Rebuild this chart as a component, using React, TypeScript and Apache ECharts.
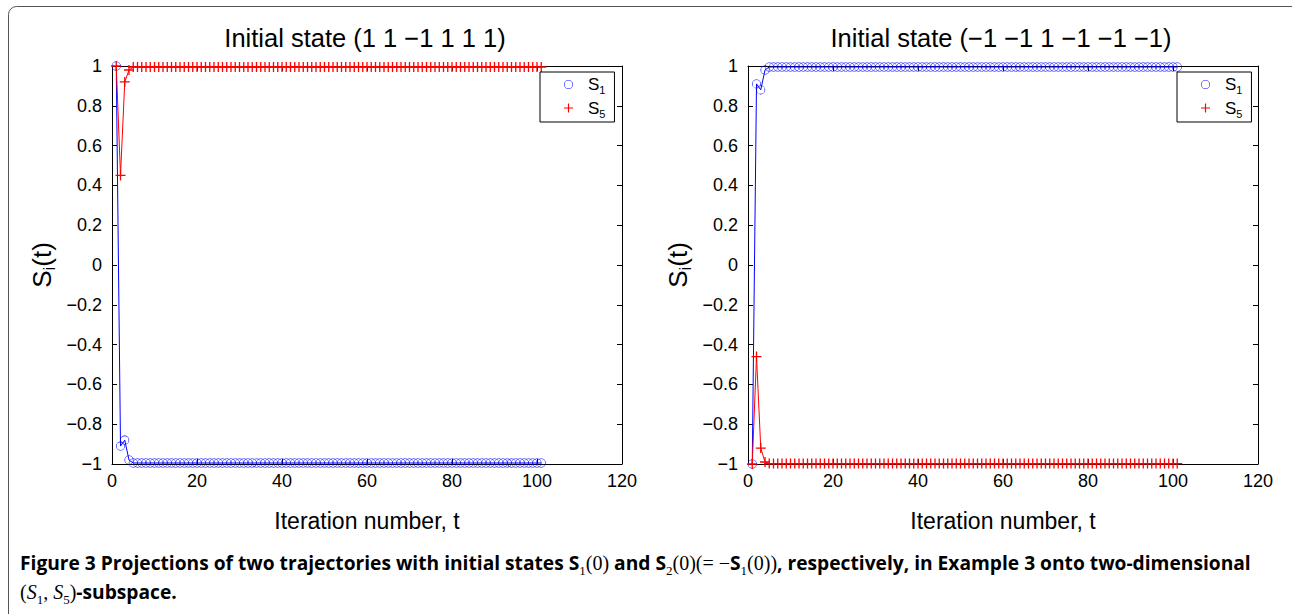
import React, { useEffect, useRef } from "react";
import * as echarts from "echarts";

const iterations = [
  1, 2, 3, 4, 5, 6, 7, 8, 9, 10,
  11, 12, 13, 14, 15, 16, 17, 18, 19, 20,
  21, 22, 23, 24, 25, 26, 27, 28, 29, 30,
  31, 32, 33, 34, 35, 36, 37, 38, 39, 40,
  41, 42, 43, 44, 45, 46, 47, 48, 49, 50,
  51, 52, 53, 54, 55, 56, 57, 58, 59, 60,
  61, 62, 63, 64, 65, 66, 67, 68, 69, 70,
  71, 72, 73, 74, 75, 76, 77, 78, 79, 80,
  81, 82, 83, 84, 85, 86, 87, 88, 89, 90,
  91, 92, 93, 94, 95, 96, 97, 98, 99, 100,
  101,
];

const leftS1 = [
  1, -0.91, -0.88, -0.98, -0.995, -0.995, -0.995, -0.995, -0.995, -0.995,
  -0.995, -0.995, -0.995, -0.995, -0.995, -0.995, -0.995, -0.995, -0.995, -0.995,
  -0.995, -0.995, -0.995, -0.995, -0.995, -0.995, -0.995, -0.995, -0.995, -0.995,
  -0.995, -0.995, -0.995, -0.995, -0.995, -0.995, -0.995, -0.995, -0.995, -0.995,
  -0.995, -0.995, -0.995, -0.995, -0.995, -0.995, -0.995, -0.995, -0.995, -0.995,
  -0.995, -0.995, -0.995, -0.995, -0.995, -0.995, -0.995, -0.995, -0.995, -0.995,
  -0.995, -0.995, -0.995, -0.995, -0.995, -0.995, -0.995, -0.995, -0.995, -0.995,
  -0.995, -0.995, -0.995, -0.995, -0.995, -0.995, -0.995, -0.995, -0.995, -0.995,
  -0.995, -0.995, -0.995, -0.995, -0.995, -0.995, -0.995, -0.995, -0.995, -0.995,
  -0.995, -0.995, -0.995, -0.995, -0.995, -0.995, -0.995, -0.995, -0.995, -0.995,
  -0.995,
];

const leftS5 = [
  1, 0.45, 0.92, 0.98, 0.995, 0.995, 0.995, 0.995, 0.995, 0.995,
  0.995, 0.995, 0.995, 0.995, 0.995, 0.995, 0.995, 0.995, 0.995, 0.995,
  0.995, 0.995, 0.995, 0.995, 0.995, 0.995, 0.995, 0.995, 0.995, 0.995,
  0.995, 0.995, 0.995, 0.995, 0.995, 0.995, 0.995, 0.995, 0.995, 0.995,
  0.995, 0.995, 0.995, 0.995, 0.995, 0.995, 0.995, 0.995, 0.995, 0.995,
  0.995, 0.995, 0.995, 0.995, 0.995, 0.995, 0.995, 0.995, 0.995, 0.995,
  0.995, 0.995, 0.995, 0.995, 0.995, 0.995, 0.995, 0.995, 0.995, 0.995,
  0.995, 0.995, 0.995, 0.995, 0.995, 0.995, 0.995, 0.995, 0.995, 0.995,
  0.995, 0.995, 0.995, 0.995, 0.995, 0.995, 0.995, 0.995, 0.995, 0.995,
  0.995, 0.995, 0.995, 0.995, 0.995, 0.995, 0.995, 0.995, 0.995, 0.995,
  0.995,
];

const rightS1 = [
  -1, 0.91, 0.88, 0.98, 0.995, 0.995, 0.995, 0.995, 0.995, 0.995,
  0.995, 0.995, 0.995, 0.995, 0.995, 0.995, 0.995, 0.995, 0.995, 0.995,
  0.995, 0.995, 0.995, 0.995, 0.995, 0.995, 0.995, 0.995, 0.995, 0.995,
  0.995, 0.995, 0.995, 0.995, 0.995, 0.995, 0.995, 0.995, 0.995, 0.995,
  0.995, 0.995, 0.995, 0.995, 0.995, 0.995, 0.995, 0.995, 0.995, 0.995,
  0.995, 0.995, 0.995, 0.995, 0.995, 0.995, 0.995, 0.995, 0.995, 0.995,
  0.995, 0.995, 0.995, 0.995, 0.995, 0.995, 0.995, 0.995, 0.995, 0.995,
  0.995, 0.995, 0.995, 0.995, 0.995, 0.995, 0.995, 0.995, 0.995, 0.995,
  0.995, 0.995, 0.995, 0.995, 0.995, 0.995, 0.995, 0.995, 0.995, 0.995,
  0.995, 0.995, 0.995, 0.995, 0.995, 0.995, 0.995, 0.995, 0.995, 0.995,
  0.995,
];

const rightS5 = [
  -1, -0.46, -0.92, -0.99, -0.998, -0.998, -0.998, -0.998, -0.998, -0.998,
  -0.998, -0.998, -0.998, -0.998, -0.998, -0.998, -0.998, -0.998, -0.998, -0.998,
  -0.998, -0.998, -0.998, -0.998, -0.998, -0.998, -0.998, -0.998, -0.998, -0.998,
  -0.998, -0.998, -0.998, -0.998, -0.998, -0.998, -0.998, -0.998, -0.998, -0.998,
  -0.998, -0.998, -0.998, -0.998, -0.998, -0.998, -0.998, -0.998, -0.998, -0.998,
  -0.998, -0.998, -0.998, -0.998, -0.998, -0.998, -0.998, -0.998, -0.998, -0.998,
  -0.998, -0.998, -0.998, -0.998, -0.998, -0.998, -0.998, -0.998, -0.998, -0.998,
  -0.998, -0.998, -0.998, -0.998, -0.998, -0.998, -0.998, -0.998, -0.998, -0.998,
  -0.998, -0.998, -0.998, -0.998, -0.998, -0.998, -0.998, -0.998, -0.998, -0.998,
  -0.998, -0.998, -0.998, -0.998, -0.998, -0.998, -0.998, -0.998, -0.998, -0.998,
  -0.998,
];

const seriesNames = ["S1", "S5"];
const titles = ["Initial state (1 1 \u22121 1 1 1)", "Initial state (\u22121 \u22121 1 \u22121 \u22121 \u22121)"];
const xAxisTitle = "Iteration number, t";
const xTicks = { min: 0, max: 120, interval: 20 };
const yTicks = { min: -1, max: 1, interval: 0.2 };

const FONT = "Liberation Sans";
const CAPFONT = "Open Sans";
const MATH = "Liberation Serif";

const ringPath =
  "path://M0,-10A10,10 0 1,1 0,10A10,10 0 1,1 0,-10ZM0,-8.7A8.7,8.7 0 1,0 0,8.7A8.7,8.7 0 1,0 0,-8.7Z";
const crossPath = "path://M4.35,0H5.65V10H4.35ZM0,4.35H10V5.65H0Z";

const BLUE = "#0000ff";
const RED = "#ff0000";

const GRID_W = 510;
const GRID_H = 398;
const GRID_TOP = 66;
const GRID_LEFTS = [112, 748];

function yFmt(v: number) {
  const r = Math.round(v * 10) / 10;
  if (r === 0) return "0";
  return String(r).replace("-", "\u2212");
}

function buildOption() {
  const grid = GRID_LEFTS.map((l) => ({ left: l, top: GRID_TOP, width: GRID_W, height: GRID_H, containLabel: false }));
  const axisLine = { show: true, onZero: false, lineStyle: { color: "#000", width: 1 } };
  const axisTick = { show: true, inside: true, length: 5, lineStyle: { color: "#000", width: 1 } };
  const labelStyle = { color: "#000", fontFamily: FONT, fontSize: 18 };

  const xAxis: any[] = [];
  const yAxis: any[] = [];
  GRID_LEFTS.forEach((_, g) => {
    xAxis.push({
      type: "value", gridIndex: g, position: "bottom", ...xTicks,
      axisLine, axisTick, splitLine: { show: false },
      axisLabel: { ...labelStyle, margin: 8 },
      name: xAxisTitle, nameLocation: "middle", nameGap: 45,
      nameTextStyle: { color: "#000", fontFamily: FONT, fontSize: 23 },
    });
    xAxis.push({
      type: "value", gridIndex: g, position: "top", ...xTicks,
      axisLine, axisTick, splitLine: { show: false }, axisLabel: { show: false },
    });
    yAxis.push({
      type: "value", gridIndex: g, position: "left", ...yTicks,
      axisLine, axisTick, splitLine: { show: false },
      axisLabel: { ...labelStyle, margin: 10, formatter: yFmt },
      name: "{s|S}{sub|i}{s|(t)}", nameLocation: "middle", nameGap: 54,
      nameTextStyle: {
        color: "#000",
        rich: {
          s: { fontFamily: FONT, fontSize: 26, lineHeight: 32, color: "#000" },
          sub: { fontFamily: FONT, fontSize: 17, lineHeight: 12, verticalAlign: "bottom", color: "#000" },
        },
      },
    });
    yAxis.push({
      type: "value", gridIndex: g, position: "right", ...yTicks,
      axisLine, axisTick, splitLine: { show: false }, axisLabel: { show: false },
    });
  });

  const mk = (name: string, g: number, vals: number[], color: string, sym: string, size: number) => ({
    type: "line",
    name,
    xAxisIndex: g * 2,
    yAxisIndex: g * 2,
    data: iterations.map((t, i) => [t, vals[i]]),
    symbol: sym,
    symbolSize: size,
    showSymbol: true,
    showAllSymbol: true,
    clip: false,
    lineStyle: { color, width: 1 },
    itemStyle: { color },
    emphasis: { disabled: true },
  });

  const series = [
    mk(seriesNames[0], 0, leftS1, BLUE, ringPath, 9),
    mk(seriesNames[1], 0, leftS5, RED, crossPath, 10),
    mk(seriesNames[0], 1, rightS1, BLUE, ringPath, 9),
    mk(seriesNames[1], 1, rightS5, RED, crossPath, 10),
  ];

  const legendRich = {
    s: { fontFamily: FONT, fontSize: 17, lineHeight: 22, color: "#000" },
    sub: { fontFamily: FONT, fontSize: 11, lineHeight: 9, verticalAlign: "bottom", color: "#000" },
  };
  const legend = [540, 1177].map((l) => ({
    left: l,
    top: 72,
    orient: "vertical",
    selectedMode: false,
    data: [
      { name: seriesNames[0], icon: ringPath },
      { name: seriesNames[1], icon: crossPath },
    ],
    itemWidth: 9,
    itemHeight: 9,
    itemGap: 4,
    padding: [4, 9, 3, 24],
    borderColor: "#000",
    borderWidth: 1,
    borderRadius: 0,
    backgroundColor: "#fff",
    formatter: (n: string) => "{s|S}{sub|" + n.slice(1) + "}",
    textStyle: { color: "#000", padding: [0, 0, 0, 10], rich: legendRich },
  }));

  const CAPCOL = "#1a1a1a";
  const capRich = {
    b: { fontFamily: CAPFONT, fontWeight: "bold", fontSize: 19.2, lineHeight: 29, color: CAPCOL },
    t: { fontFamily: CAPFONT, fontWeight: "bold", fontSize: 19.2, lineHeight: 29, color: CAPCOL },
    m: { fontFamily: MATH, fontSize: 20, lineHeight: 29, color: CAPCOL },
    i: { fontFamily: MATH, fontStyle: "italic", fontSize: 20, lineHeight: 29, color: CAPCOL },
    sub: { fontFamily: MATH, fontSize: 13, lineHeight: 19, verticalAlign: "bottom", color: CAPCOL },
  };
  const capText =
    "{b|Figure 3}{t| Projections of two trajectories with initial states }{t|S}{sub|1}{m|(0)}{t| and }{t|S}{sub|2}{m|(0)(= \u2212}{t|S}{sub|1}{m|(0))}{t|, respectively, in Example 3 onto two-dimensional}\n" +
    "{m|(}{i|S}{sub|1}{m|, }{i|S}{sub|5}{m|)}{t|-subspace.}";

  const graphic: any[] = [
    {
      type: "rect",
      shape: { x: 8.5, y: 6.5, width: 1300, height: 700, r: 8 },
      style: { fill: "none", stroke: "#555", lineWidth: 1 },
      silent: true,
    },
    ...titles.map((t, g) => ({
      type: "text",
      x: GRID_LEFTS[g] + GRID_W / 2 - 2,
      y: 38,
      style: { text: t, fill: "#000", fontFamily: FONT, fontSize: 25.5, align: "center", verticalAlign: "middle" },
    })),
    {
      type: "text",
      x: 20,
      y: 548,
      style: { text: capText, rich: capRich, align: "left", verticalAlign: "top" },
    },
  ];

  return {
    animation: false,
    backgroundColor: "#fff",
    grid,
    xAxis,
    yAxis,
    legend,
    series,
    graphic,
  };
}

export default function App() {
  const ref = useRef<HTMLDivElement>(null);
  useEffect(() => {
    document.body.style.margin = "0";
    if (!ref.current) return;
    const chart = echarts.init(ref.current, undefined, { renderer: "svg" });
    chart.setOption(buildOption() as any);
    return () => chart.dispose();
  }, []);
  return <div ref={ref} style={{ width: 1292, height: 614, position: "absolute", left: 0, top: 0 }} />;
}
